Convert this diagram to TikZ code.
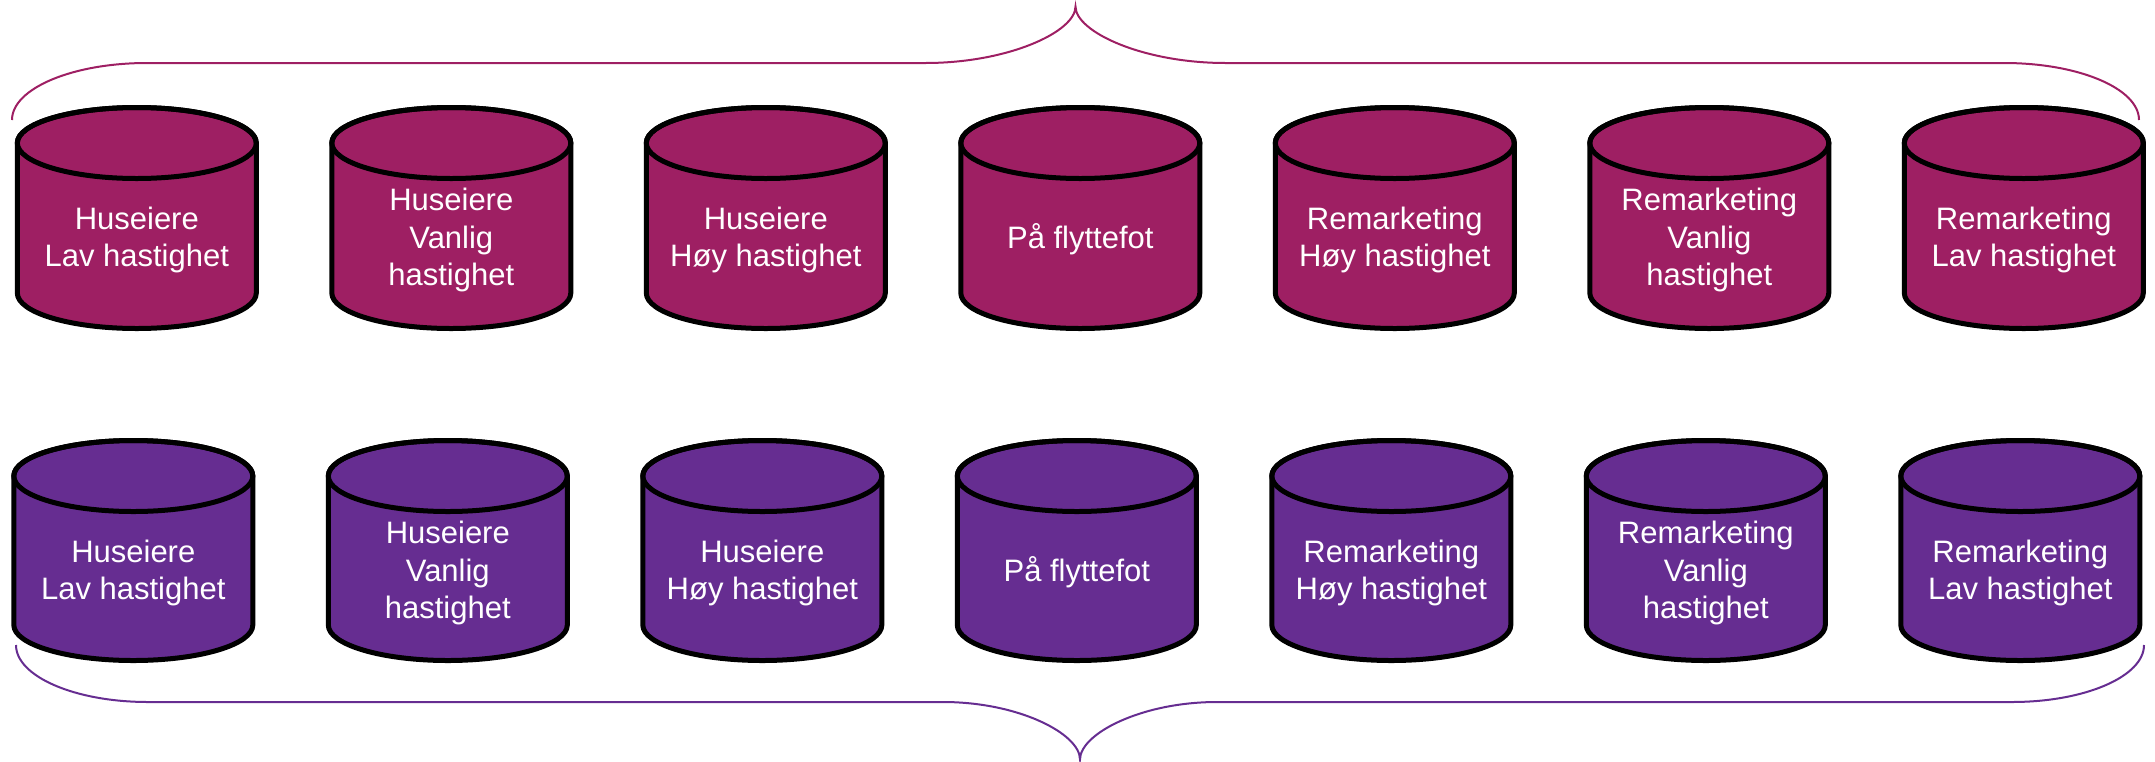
\documentclass[tikz,border=0pt]{standalone}
\usepackage{fontspec}
\setmainfont{Liberation Sans}
\definecolor{magentafill}{HTML}{9E1F63}
\definecolor{purplefill}{HTML}{662D91}
\newcommand\lnstrut{\rule[-12.5pt]{0pt}{37.5pt}}
% #1 name, #2 cx, #3 top ellipse centre y, #4 body height, #5 fill, #6 text
\newcommand\drawcyl[6]{%
  \filldraw[cylline, fill=#5] (#2-119.5,#3) -- (#2-119.5,#3+#4)
    arc[start angle=180,end angle=360,x radius=119.5pt,y radius=35.5pt]
    -- (#2+119.5,#3)
    arc[start angle=0,end angle=180,x radius=119.5pt,y radius=35.5pt] -- cycle;
  \draw[cylline] (#2,#3) ellipse[x radius=119.5pt,y radius=35.5pt];
  \node[lbl] (#1) at (#2,#3+98.75) {#6};
}
\begin{document}
\begin{tikzpicture}[x=1pt,y=-1pt,
  cylline/.style={draw=black,line width=5pt,line join=round},
  lbl/.style={text=white,inner sep=0pt,align=center,font=\fontsize{31}{37.5}\selectfont},
  bracetop/.style={draw=magentafill,line width=2pt},
  bracebot/.style={draw=purplefill,line width=2pt}]
\useasboundingbox (0,0) rectangle (2155,761);
% top row
\drawcyl{t1}{136.8}{143}{150}{magentafill}{\lnstrut Huseiere\\\lnstrut Lav hastighet}
\drawcyl{t2}{451.3}{143}{150}{magentafill}{\lnstrut Huseiere\\\lnstrut Vanlig\\\lnstrut hastighet}
\drawcyl{t3}{765.8}{143}{150}{magentafill}{\lnstrut Huseiere\\\lnstrut Høy hastighet}
\drawcyl{t4}{1080.3}{143}{150}{magentafill}{\lnstrut På flyttefot}
\drawcyl{t5}{1394.8}{143}{150}{magentafill}{\lnstrut Remarketing\\\lnstrut Høy hastighet}
\drawcyl{t6}{1709.3}{143}{150}{magentafill}{\lnstrut Remarketing\\\lnstrut Vanlig\\\lnstrut hastighet}
\drawcyl{t7}{2023.8}{143}{150}{magentafill}{\lnstrut Remarketing\\\lnstrut Lav hastighet}
% bottom row
\drawcyl{b1}{133.3}{476}{149}{purplefill}{\lnstrut Huseiere\\\lnstrut Lav hastighet}
\drawcyl{b2}{447.8}{476}{149}{purplefill}{\lnstrut Huseiere\\\lnstrut Vanlig\\\lnstrut hastighet}
\drawcyl{b3}{762.3}{476}{149}{purplefill}{\lnstrut Huseiere\\\lnstrut Høy hastighet}
\drawcyl{b4}{1076.8}{476}{149}{purplefill}{\lnstrut På flyttefot}
\drawcyl{b5}{1391.3}{476}{149}{purplefill}{\lnstrut Remarketing\\\lnstrut Høy hastighet}
\drawcyl{b6}{1705.8}{476}{149}{purplefill}{\lnstrut Remarketing\\\lnstrut Vanlig\\\lnstrut hastighet}
\drawcyl{b7}{2020.3}{476}{149}{purplefill}{\lnstrut Remarketing\\\lnstrut Lav hastighet}
% top brace
\coordinate (tbL) at (12,120);
\coordinate (tbTip) at (1075.5,6.5);
\coordinate (tbR) at (2139,120);
\draw[bracetop] (tbL) .. controls (12,88.5) and (72.4,63) .. (147,63)
  -- (925.5,63) .. controls (1008.3,63) and (1075.5,31.8) .. (tbTip)
  .. controls (1075.5,31.8) and (1142.7,63) .. (1225.5,63)
  -- (2004,63) .. controls (2078.6,63) and (2139,88.5) .. (tbR);
% bottom brace
\coordinate (bbL) at (16,645);
\coordinate (bbTip) at (1080,759.5);
\coordinate (bbR) at (2144,645);
\draw[bracebot] (bbL) .. controls (16,676.5) and (75.1,702) .. (148,702)
  -- (943,702) .. controls (1018.7,702) and (1080,733.8) .. (bbTip)
  .. controls (1080,733.8) and (1141.3,702) .. (1217,702)
  -- (2012,702) .. controls (2084.9,702) and (2144,676.5) .. (bbR);
\end{tikzpicture}
\end{document}
